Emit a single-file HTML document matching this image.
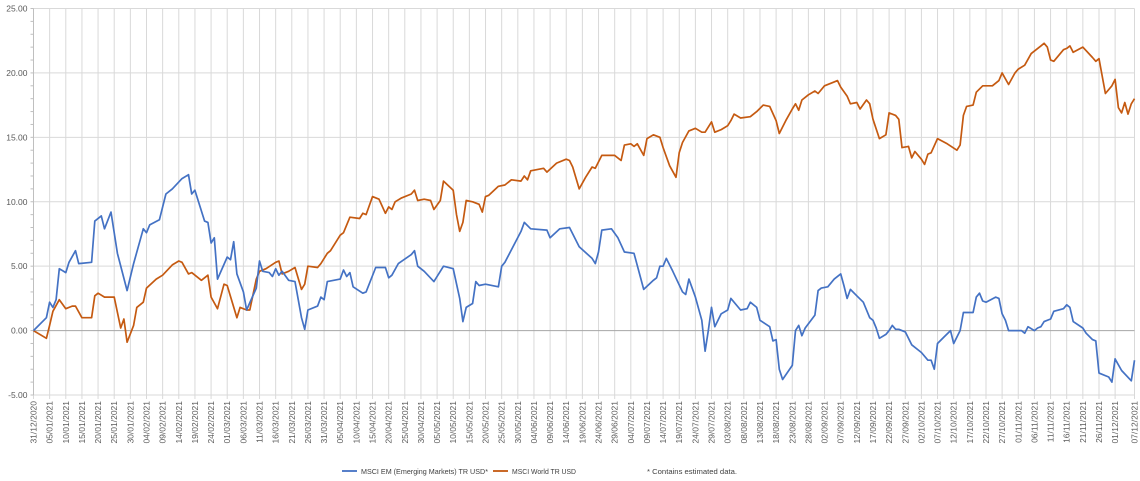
<!DOCTYPE html>
<html><head><meta charset="utf-8">
<style>
html,body{margin:0;padding:0;background:#fff;}
svg{display:block;font-family:"Liberation Sans",sans-serif;}
</style></head>
<body>
<svg id="chart" width="1140" height="481" viewBox="0 0 1140 481" xmlns="http://www.w3.org/2000/svg">
<g id="grid"></g>
<g id="yaxis"></g>
<g id="xaxis"></g>
<g id="series"></g>
<g font-size="7.5" fill="#404040">
  <g>
    <line x1="342" y1="471" x2="357" y2="471" stroke="#4472c4" stroke-width="1.8"/>
    <text x="361" y="474" textLength="127" lengthAdjust="spacingAndGlyphs">MSCI EM (Emerging Markets) TR USD*</text>
  </g>
  <g>
    <line x1="493" y1="471" x2="508" y2="471" stroke="#c55a11" stroke-width="1.8"/>
    <text x="512" y="474" textLength="64" lengthAdjust="spacingAndGlyphs">MSCI World TR USD</text>
  </g>
  <text x="647" y="474" textLength="90" lengthAdjust="spacingAndGlyphs">*  Contains estimated data.</text>
</g>
</svg>
<script>
const emDays = [0,4,5,6,7,8,10,11,13,14,18,19,21,22,24,26,29,31,34,35,36,39,41,43,46,48,49,50,53,54,55,56,57,60,61,62,63,65,66,69,70,71,73,74,75,76,77,79,81,83,84,85,88,89,90,91,95,96,97,98,99,102,103,106,109,110,111,113,117,118,119,121,124,127,130,132,133,134,136,137,138,140,144,145,146,151,152,154,159,160,163,166,169,173,174,175,176,179,181,183,186,189,192,193,194,195,196,198,201,202,203,205,207,208,209,210,211,213,215,216,219,221,222,224,225,228,229,230,231,232,235,236,237,238,239,242,243,244,246,248,250,251,252,253,255,257,259,260,261,262,264,265,266,267,268,270,272,275,277,278,279,280,282,284,285,287,288,291,292,293,294,295,298,299,300,301,302,306,307,308,310,311,312,313,315,316,319,320,321,322,325,326,328,329,330,333,334,335,337,340,341];
const emValues = [0,1.0,2.2,1.8,2.4,4.8,4.5,5.3,6.2,5.2,5.3,8.5,8.9,7.9,9.2,6.0,3.1,5.2,7.9,7.6,8.2,8.6,10.6,11.0,11.8,12.1,10.6,10.9,8.5,8.4,6.8,7.2,4.0,5.7,5.5,6.9,4.4,3.0,1.6,3.3,5.4,4.6,4.5,4.2,4.8,4.3,4.6,3.9,3.8,1.0,0.1,1.6,1.9,2.6,2.4,3.8,4.0,4.7,4.2,4.5,3.4,2.9,3.0,4.9,4.9,4.1,4.3,5.2,5.9,6.2,5.0,4.6,3.8,5.0,4.8,2.5,0.7,1.8,2.1,3.8,3.5,3.6,3.4,5.0,5.3,7.7,8.4,7.9,7.8,7.2,7.9,8.0,6.5,5.6,5.2,6.1,7.8,7.9,7.2,6.1,6.0,3.2,3.9,4.1,5.0,5.0,5.6,4.6,3.0,2.8,4.0,2.6,0.8,-1.6,0.0,1.8,0.3,1.3,1.6,2.5,1.6,1.7,2.2,1.8,0.8,0.3,-0.8,-0.7,-3.0,-3.8,-2.7,0.0,0.4,-0.4,0.2,1.2,3.1,3.3,3.4,4.0,4.4,3.5,2.5,3.2,2.7,2.2,1.0,0.8,0.2,-0.6,-0.3,0.0,0.4,0.1,0.1,-0.1,-1.1,-1.7,-2.3,-2.3,-3.0,-1.0,-0.5,0.0,-1.0,0.0,1.4,1.4,2.6,2.9,2.3,2.2,2.6,2.5,1.3,0.8,0.0,0.0,-0.2,0.3,0.0,0.2,0.3,0.7,0.9,1.5,1.7,2.0,1.8,0.7,0.2,-0.2,-0.7,-0.8,-3.3,-3.6,-4.0,-2.2,-3.1,-3.9,-2.3];
const worldDays = [0,4,5,6,8,10,12,13,15,18,19,20,22,25,27,28,29,31,32,34,35,38,40,43,45,46,48,49,52,54,55,57,59,60,63,64,66,67,69,70,72,75,76,77,79,81,83,84,85,88,89,91,92,95,96,98,101,102,103,105,107,109,110,111,112,114,117,118,119,121,123,124,126,127,130,131,132,133,134,136,138,139,140,141,144,146,148,151,152,153,154,158,159,162,165,166,167,169,171,173,174,176,180,182,183,185,186,187,189,190,192,194,195,197,199,200,201,203,205,207,208,210,211,213,215,216,217,219,222,224,226,228,230,231,233,235,236,237,238,240,242,243,245,248,249,250,252,253,255,256,258,259,260,262,264,265,267,268,269,271,272,273,274,275,276,277,278,280,283,286,287,288,289,291,292,294,297,299,300,302,304,305,307,309,312,313,314,315,316,319,320,321,322,325,328,329,330,332,334,335,336,337,338,339,340,341];
const worldValues = [0,-0.6,0.4,1.5,2.4,1.7,1.9,1.9,1.0,1.0,2.7,2.9,2.6,2.6,0.2,0.9,-0.9,0.4,1.8,2.2,3.3,4.0,4.3,5.1,5.4,5.3,4.4,4.5,3.9,4.3,2.6,1.7,3.6,3.5,1.0,1.8,1.6,1.6,4.0,4.6,4.8,5.3,5.4,4.4,4.6,4.9,3.2,3.6,5.0,4.9,5.2,6.0,6.2,7.4,7.6,8.8,8.7,9.1,9.0,10.4,10.2,9.1,9.6,9.4,10.0,10.3,10.6,10.9,10.1,10.2,10.1,9.4,10.1,11.6,10.9,9.0,7.7,8.4,10.1,10.0,9.8,9.2,10.4,10.5,11.2,11.3,11.7,11.6,12.0,11.7,12.4,12.6,12.3,13.0,13.3,13.2,12.7,11.0,11.9,12.7,12.6,13.6,13.6,13.2,14.4,14.5,14.3,14.5,13.6,14.9,15.2,15.0,14.2,12.8,11.9,13.8,14.6,15.5,15.7,15.4,15.4,16.2,15.4,15.6,15.9,16.3,16.8,16.5,16.6,17.0,17.5,17.4,16.3,15.3,16.3,17.2,17.6,17.1,17.9,18.3,18.6,18.4,19.0,19.3,19.4,18.9,18.2,17.6,17.7,17.2,17.9,17.6,16.4,14.9,15.2,16.9,16.7,16.4,14.2,14.3,13.4,13.9,13.6,13.3,12.9,13.7,13.8,14.9,14.5,14.0,14.4,16.7,17.4,17.5,18.5,19.0,19.0,19.4,20.0,19.1,20.0,20.3,20.6,21.5,22.1,22.3,22.0,21.0,20.9,21.8,21.9,22.1,21.6,22.0,21.2,20.9,21.1,18.4,19.0,19.5,17.3,16.9,17.7,16.8,17.6,18.0,20.3];
const yTicks = [-5,0,5,10,15,20,25];
const startDate = [2020,11,31];
const lastDay = 341;
const tickStepDays = 5;

const NS="http://www.w3.org/2000/svg";
const L=33.5,R=1134.5,T=8.5,B=395;
const yMin=-5,yMax=25;
function xs(d){return L+(d/lastDay)*(R-L);}
function ys(v){return B-(v-yMin)/(yMax-yMin)*(B-T);}
function mk(tag,attrs,parent){const e=document.createElementNS(NS,tag);for(const k in attrs)e.setAttribute(k,attrs[k]);parent.appendChild(e);return e;}
const grid=document.getElementById('grid'),yax=document.getElementById('yaxis'),xax=document.getElementById('xaxis'),ser=document.getElementById('series');
function fmt(d){const dt=new Date(startDate[0],startDate[1],startDate[2]+d);const p=n=>String(n).padStart(2,'0');return p(dt.getDate())+'/'+p(dt.getMonth()+1)+'/'+dt.getFullYear();}
const xTickDays=[];for(let d=0;d<=lastDay-5;d+=tickStepDays)xTickDays.push(d);xTickDays.push(lastDay);
xTickDays.forEach(d=>{
  const x=xs(d);
  const g=mk('line',{x1:x,y1:T,x2:x,y2:B+4,stroke:'#d9d9d9','stroke-width':1},grid);
  
  
  const t=mk('text',{x:0,y:0,transform:`translate(${x+3},${B+6}) rotate(-90)`,'text-anchor':'end','font-size':'8.5',fill:'#595959'},xax);
  t.textContent=fmt(d);
  
  
});
for(let v=yMin;v<=yMax;v++){const y=ys(v);const m=mk('line',{x1:L-3,y1:y,x2:L,y2:y,stroke:'#bfbfbf','stroke-width':1},yax);
  
  }
yTicks.forEach(v=>{
  const y=ys(v);
  const g=mk('line',{x1:L,y1:y,x2:R,y2:y,stroke:v===0?'#a6a6a6':'#d9d9d9','stroke-width':1},grid);
  
  
  const t=mk('text',{x:L-6,y:y+3,'text-anchor':'end','font-size':'8.5',fill:'#595959'},yax);
  t.textContent=v.toFixed(2);
  
  
});
const ax=mk('line',{x1:L,y1:T,x2:L,y2:B,stroke:'#bfbfbf','stroke-width':1},yax);


function line(days,vals,color,name){
  const d=days.map((dd,i)=>(i?'L':'M')+xs(dd).toFixed(1)+','+ys(vals[i]).toFixed(1)).join('');
  const p=mk('path',{d:d,fill:'none',stroke:color,'stroke-width':1.7,'stroke-linejoin':'round'},ser);
  
  
}
line(worldDays,worldValues,'#c55a11','msci-world-line');
line(emDays,emValues,'#4472c4','msci-em-line');
</script>
</body></html>
